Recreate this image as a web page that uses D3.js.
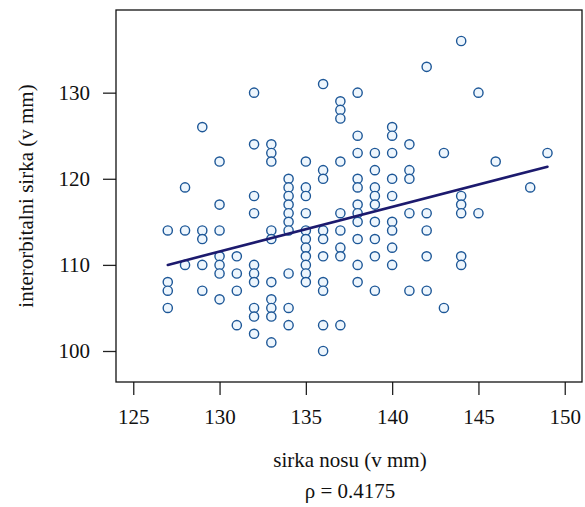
<!DOCTYPE html>
<html>
<head>
<meta charset="utf-8">
<script src="https://cdn.jsdelivr.net/npm/d3@7"></script>
<style>
  html, body { margin: 0; padding: 0; background: #fff; }
  svg { display: block; }
</style>
</head>
<body>
<svg id="chart" width="585" height="507"></svg>
<script>
// Nose width (x) and interorbital width (y), both in mm
const noseWidth = [
  127,127,127,127,
  128,128,128,
  129,129,129,129,129,
  130,130,130,130,130,130,130,
  131,131,131,131,
  132,132,132,132,132,132,132,132,132,132,
  133,133,133,133,133,133,133,133,133,133,
  134,134,134,134,134,134,134,134,134,134,
  135,135,135,135,135,135,135,135,135,135,135,
  136,136,136,136,136,136,136,136,136,136,
  137,137,137,137,137,137,137,137,137,
  138,138,138,138,138,138,138,138,138,138,138,
  139,139,139,139,139,139,139,139,139,
  140,140,140,140,140,140,140,140,140,
  141,141,141,141,141,
  142,142,142,142,142,
  143,143,
  144,144,144,144,144,144,
  145,145,
  146,
  148,
  149
];
const interorbital = [
  114,108,107,105,
  119,114,110,
  126,114,113,110,107,
  122,117,114,111,110,109,106,
  111,109,107,103,
  130,124,118,116,110,109,108,105,104,102,
  124,123,122,114,113,108,106,105,104,101,
  120,119,118,117,116,115,114,109,105,103,
  122,119,118,116,114,113,112,111,110,109,108,
  131,121,120,114,113,111,108,107,103,100,
  129,128,127,122,116,114,112,111,103,
  130,125,123,120,119,117,116,115,113,110,108,
  123,121,119,118,117,115,113,111,107,
  126,125,123,120,118,115,114,112,110,
  124,121,120,116,107,
  133,116,114,111,107,
  123,105,
  136,118,117,116,111,110,
  130,116,
  122,
  119,
  123
];

// Fitted regression line endpoints
const fitX = [127, 149];
const fitY = [110.0, 121.4];

const xTicks = [125, 130, 135, 140, 145, 150];
const yTicks = [100, 110, 120, 130];

const xLabel = "sirka nosu (v mm)";
const yLabel = "interorbitalni sirka (v mm)";
const caption = "\u03C1 = 0.4175";

const SERIF = '"Liberation Serif", "Times New Roman", Times, "DejaVu Serif", serif';

const svg = d3.select("#chart");
const plotL = 116, plotR = 582, plotT = 10, plotB = 382;

const x = d3.scaleLinear().domain([124, 151]).range([plotL, plotR]);
const y = d3.scaleLinear().domain([96.4, 139.6]).range([plotB, plotT]);

// Axes
const xAxis = d3.axisBottom(x).tickValues(xTicks).tickSize(13).tickPadding(14).tickFormat(d3.format("d"));
const yAxis = d3.axisLeft(y).tickValues(yTicks).tickSize(13).tickPadding(13).tickFormat(d3.format("d"));

const gx = svg.append("g").attr("transform", `translate(0,${plotB})`).call(xAxis);
const gy = svg.append("g").attr("transform", `translate(${plotL},0)`).call(yAxis);
[gx, gy].forEach(g => {
  g.attr("font-family", SERIF).attr("font-size", 21);
  g.select(".domain").remove();
  g.selectAll(".tick line").attr("stroke", "#222").attr("stroke-width", 1.3);
  g.selectAll(".tick text").attr("fill", "#111");
});
gx.selectAll(".tick text").attr("dy", "0.71em");

// Frame
svg.append("rect")
  .attr("x", plotL).attr("y", plotT)
  .attr("width", plotR - plotL).attr("height", plotB - plotT)
  .attr("fill", "none").attr("stroke", "#111").attr("stroke-width", 1.3);

// Points
const pts = noseWidth.map((v, i) => [v, interorbital[i]]);
svg.append("g").selectAll("circle")
  .data(pts)
  .join("circle")
  .attr("cx", d => x(d[0]))
  .attr("cy", d => y(d[1]))
  .attr("r", 4.6)
  .attr("fill", "#eef6fd")
  .attr("stroke", "#1d5797")
  .attr("stroke-width", 1.4);

// Regression line
svg.append("line")
  .attr("x1", x(fitX[0])).attr("y1", y(fitY[0]))
  .attr("x2", x(fitX[1])).attr("y2", y(fitY[1]))
  .attr("stroke", "#1c1a6e").attr("stroke-width", 2.6)
  .attr("stroke-linecap", "round");

// Axis titles and caption
const labels = svg.append("g")
  .attr("font-family", SERIF).attr("font-size", 21).attr("fill", "#111");

labels.append("text")
  .attr("x", (plotL + plotR) / 2 + 1).attr("y", 467)
  .attr("text-anchor", "middle")
  .text(xLabel);

labels.append("text")
  .attr("transform", `translate(33,${(plotT + plotB) / 2}) rotate(-90)`)
  .attr("text-anchor", "middle")
  .text(yLabel);

labels.append("text")
  .attr("x", (plotL + plotR) / 2 + 1).attr("y", 498)
  .attr("text-anchor", "middle")
  .text(caption);
</script>
</body>
</html>
